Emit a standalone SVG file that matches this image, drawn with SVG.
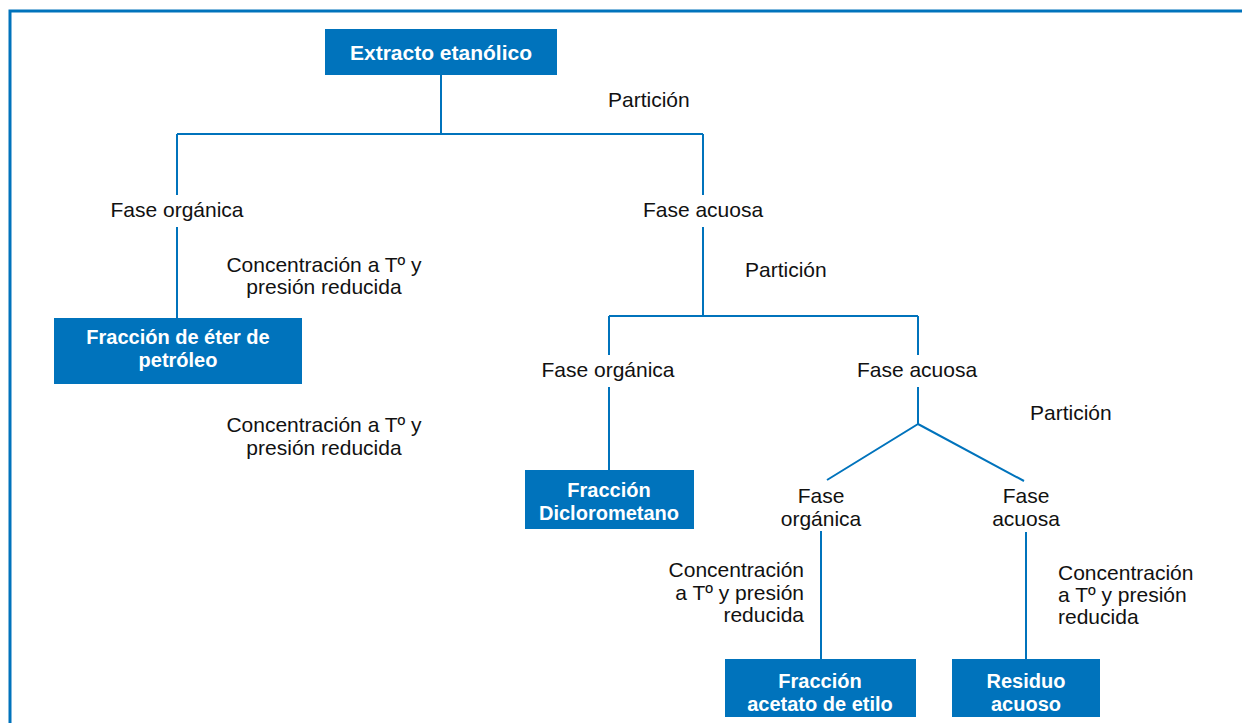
<svg xmlns="http://www.w3.org/2000/svg" width="1242" height="723" viewBox="0 0 1242 723">
<style>
.box{fill:#0073bc}
.bt{font-family:"Liberation Sans",Arial,sans-serif;font-size:20px;font-weight:bold;fill:#fff;text-anchor:middle}
.t{font-family:"Liberation Sans",Arial,sans-serif;font-size:21px;fill:#111}
.m{text-anchor:middle}
.e{text-anchor:end}
.ln{stroke:#0073bc;stroke-width:2;fill:none}
</style>
<rect width="1242" height="723" fill="#fff"/>
<rect x="10" y="11" width="1260" height="740" fill="none" stroke="#0073bc" stroke-width="3"/>
<g id="connectors" class="ln">
<path d="M441 75V134M177 134H703M177 134V195M177 227V318M703 134V195M703 227V316M609 316H918M609 316V355M609 387V470M918 316V355M918 387V424L827 480M918 424L1024 481M821 531V659M1026 532V659"/>
</g>
<g id="n-extracto"><rect class="box" x="325" y="29" width="232" height="46"/><text class="bt" x="441" y="60" style="font-size:21px">Extracto etanólico</text></g>
<g id="l-particion1"><text class="t" x="608" y="107">Partición</text></g>
<g id="l-fo1"><text class="t m" x="177" y="217">Fase orgánica</text></g>
<g id="l-fa1"><text class="t m" x="703" y="217">Fase acuosa</text></g>
<g id="l-conc1"><text class="t m" x="324" y="272">Concentración a Tº y</text><text class="t m" x="324" y="294">presión reducida</text></g>
<g id="n-eter"><rect class="box" x="54" y="318" width="248" height="66"/><text class="bt" x="178" y="344">Fracción de éter de</text><text class="bt" x="178" y="367">petróleo</text></g>
<g id="l-conc2"><text class="t m" x="324" y="432">Concentración a Tº y</text><text class="t m" x="324" y="455">presión reducida</text></g>
<g id="l-particion2"><text class="t" x="745" y="277">Partición</text></g>
<g id="l-fo2"><text class="t m" x="608" y="377">Fase orgánica</text></g>
<g id="l-fa2"><text class="t m" x="917" y="377">Fase acuosa</text></g>
<g id="l-particion3"><text class="t" x="1030" y="420">Partición</text></g>
<g id="n-dicloro"><rect class="box" x="525" y="470" width="169" height="59"/><text class="bt" x="609" y="497">Fracción</text><text class="bt" x="609" y="520">Diclorometano</text></g>
<g id="l-fo3"><text class="t m" x="821" y="503">Fase</text><text class="t m" x="821" y="526">orgánica</text></g>
<g id="l-fa3"><text class="t m" x="1026" y="503">Fase</text><text class="t m" x="1026" y="526">acuosa</text></g>
<g id="l-conc3"><text class="t e" x="804" y="577">Concentración</text><text class="t e" x="804" y="600">a Tº y presión</text><text class="t e" x="804" y="622">reducida</text></g>
<g id="l-conc4"><text class="t" x="1058" y="580">Concentración</text><text class="t" x="1058" y="602">a Tº y presión</text><text class="t" x="1058" y="624">reducida</text></g>
<g id="n-acetato"><rect class="box" x="725" y="659" width="191" height="58"/><text class="bt" x="820" y="688">Fracción</text><text class="bt" x="820" y="711">acetato de etilo</text></g>
<g id="n-residuo"><rect class="box" x="952" y="659" width="148" height="58"/><text class="bt" x="1026" y="688">Residuo</text><text class="bt" x="1026" y="711">acuoso</text></g>
</svg>
